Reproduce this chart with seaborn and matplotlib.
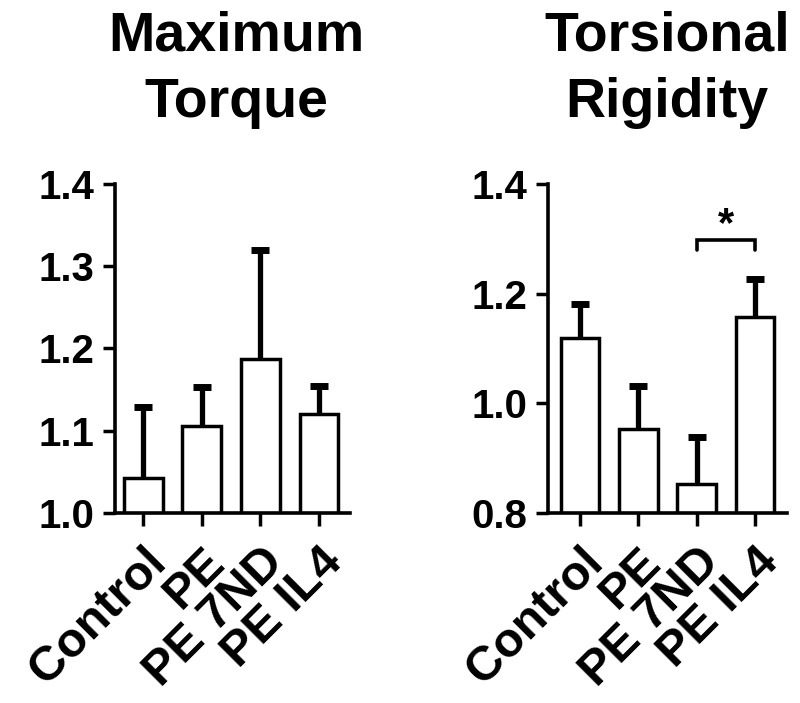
import numpy as np
import matplotlib
matplotlib.use("Agg")
import matplotlib.pyplot as plt
import seaborn as sns

groups = ["Control", "PE", "PE 7ND", "PE IL4"]

torque_mean = [1.043, 1.106, 1.187, 1.120]
torque_err = [0.086, 0.047, 0.133, 0.034]
torque_ticks = [1.0, 1.1, 1.2, 1.3, 1.4]

rigidity_mean = [1.119, 0.954, 0.853, 1.158]
rigidity_err = [0.062, 0.078, 0.086, 0.069]
rigidity_ticks = [0.8, 1.0, 1.2, 1.4]

sns.set_style("ticks")
plt.rcParams['font.family'] = ['Liberation Sans', 'DejaVu Sans']
plt.rcParams['font.weight'] = 'bold'
plt.rcParams['text.color'] = 'black'
plt.rcParams['xtick.color'] = 'black'
plt.rcParams['ytick.color'] = 'black'
plt.rcParams['axes.edgecolor'] = 'black'


def bar_panel(ax, means, errs, ticks, xlim):
    sns.barplot(x=groups, y=means, ax=ax, color='white', edgecolor='black',
                linewidth=2.5, width=0.66, errorbar=None)
    x = np.arange(len(groups))
    _, caps, _ = ax.errorbar(x, means, yerr=[np.zeros(len(errs)), errs],
                             fmt='none', ecolor='black', elinewidth=3.8,
                             capsize=6.5, capthick=5, zorder=1)
    caps[0].set_visible(False)

    ax.set_ylim(ticks[0], ticks[-1])
    ax.set_xlim(*xlim)
    ax.set_yticks(ticks)
    ax.set_yticklabels([f"{t:.1f}" for t in ticks], fontsize=29,
                       fontweight='bold', color='black')
    ax.set_xticks(x)
    ax.set_xticklabels(groups, fontsize=35, fontweight='bold', rotation=45,
                       ha='right', va='top', rotation_mode='anchor', color='black')
    ax.tick_params(axis='both', length=9, width=2.5, color='black')
    ax.tick_params(axis='y', pad=6)
    ax.tick_params(axis='x', pad=10)
    for side in ['left', 'bottom']:
        ax.spines[side].set_linewidth(2.6)
        ax.spines[side].set_color('black')
    sns.despine(ax=ax)
    ax.set_xlabel("")
    ax.set_ylabel("")


fig = plt.figure(figsize=(8, 7.03), dpi=100)
ax1 = fig.add_axes([0.1438, 0.2703, 0.2938, 0.468])
ax2 = fig.add_axes([0.685, 0.2703, 0.2988, 0.468])

bar_panel(ax1, torque_mean, torque_err, torque_ticks, (-0.48, 3.53))
bar_panel(ax2, rigidity_mean, rigidity_err, rigidity_ticks, (-0.55, 3.55))

# significance bracket between PE 7ND and PE IL4
ax2.plot([2.0, 2.0, 3.0, 3.0], [1.28, 1.298, 1.298, 1.28], color='black',
         lw=2.6, solid_joinstyle='miter')
ax2.text(2.5, 1.288, "*", ha='center', va='bottom', fontsize=30,
         fontweight='bold', color='black')

fig.text(0.296, 0.985, "Maximum\nTorque", ha='center', va='top', color='black',
         fontsize=40, fontweight='bold', linespacing=1.35)
fig.text(0.834, 0.985, "Torsional\nRigidity", ha='center', va='top', color='black',
         fontsize=40, fontweight='bold', linespacing=1.35)

fig.savefig("out.png", dpi=100)
